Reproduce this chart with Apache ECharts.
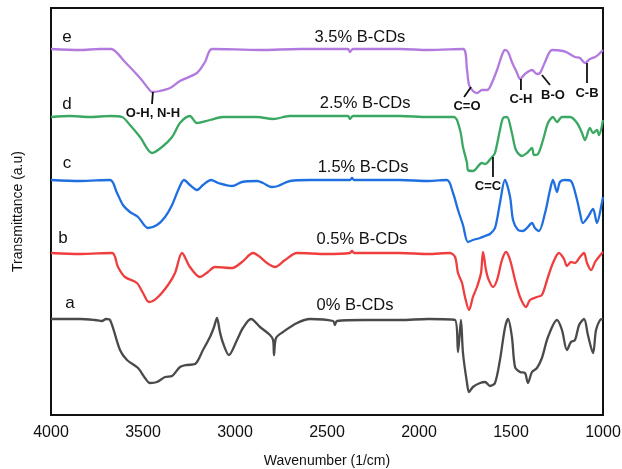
<!DOCTYPE html>
<html>
<head>
<meta charset="utf-8">
<script src="https://cdn.jsdelivr.net/npm/echarts@6/dist/echarts.min.js"></script>
<style>
	html, body { margin: 0; padding: 0; background: #fff; }
	#ftir { width: 622px; height: 469px; }
</style>
</head>
<body>
<div id="ftir"></div>
<script>
// wavenumber ticks (cm-1), axis runs 4000 -> 1000
var xTicks = [4000, 3500, 3000, 2500, 2000, 1500, 1000];

// spectra: [wavenumber, transmittance (a.u., stacked offset)]
var spectrumA = [
	[4000,96],[3842,96],[3761,95],[3723,94],[3701,96],[3679,95],[3625,65],[3587,55],[3527,47],[3489,37],
	[3462,32],[3424,33],[3380,38],[3342,39],[3299,48],[3261,50],[3217,51],[3174,65],[3136,78],[3114,88],
	[3098,97],[3082,83],[3065,72],[3033,60],[2989,75],[2957,87],[2913,96],[2864,88],[2810,80],[2793,75],
	[2788,60],[2777,77],[2739,83],[2663,92],[2592,96],[2467,94],[2457,90],[2446,94],[2300,95],[2103,95],
	[1950,96],[1804,95],[1788,63],[1772,95],[1761,62],[1739,32],[1728,23],[1707,28],[1668,32],[1641,33],
	[1614,29],[1587,32],[1560,55],[1533,87],[1516,96],[1495,78],[1478,48],[1451,43],[1424,42],[1408,32],
	[1386,43],[1359,47],[1332,57],[1299,78],[1250,95],[1223,85],[1196,65],[1174,73],[1152,75],[1130,90],
	[1103,96],[1082,80],[1054,62],[1038,85],[1016,95],[1000,96]
];
var spectrumB = [
	[4000,162],[3842,161],[3668,162],[3636,148],[3598,138],[3533,132],[3500,122],[3467,113],[3424,117],[3364,130],
	[3326,142],[3288,162],[3245,148],[3190,138],[3147,143],[3109,148],[3016,147],[2962,153],[2902,162],[2864,158],
	[2826,152],[2783,148],[2728,155],[2663,162],[2500,161],[2375,162],[2364,164],[2353,162],[2103,162],[1950,161],
	[1832,162],[1804,158],[1788,142],[1766,132],[1750,118],[1728,105],[1707,118],[1685,128],[1663,142],[1652,163],
	[1636,145],[1625,137],[1598,128],[1576,135],[1549,155],[1527,163],[1505,155],[1478,135],[1451,118],[1418,108],
	[1397,115],[1359,118],[1332,120],[1304,135],[1272,152],[1239,162],[1212,156],[1196,149],[1174,153],[1152,152],
	[1125,158],[1103,162],[1087,152],[1065,145],[1043,153],[1027,157],[1005,162],[1000,163]
];
var spectrumC = [
	[4000,235],[3842,234],[3679,235],[3641,222],[3609,210],[3571,203],[3527,198],[3473,187],[3424,190],[3380,198],
	[3342,210],[3304,227],[3277,235],[3245,230],[3207,225],[3174,230],[3130,235],[3092,232],[3016,229],[2962,233],
	[2880,234],[2848,232],[2799,228],[2766,229],[2701,234],[2592,235],[2375,235],[2364,237],[2353,235],[2103,235],
	[1950,234],[1848,235],[1815,222],[1788,205],[1761,190],[1734,173],[1707,175],[1668,177],[1641,179],[1614,181],
	[1587,187],[1560,212],[1533,235],[1505,218],[1489,195],[1462,185],[1435,184],[1413,187],[1386,192],[1370,187],
	[1348,184],[1315,202],[1288,225],[1272,235],[1250,223],[1234,233],[1207,235],[1174,234],[1141,215],[1125,202],
	[1109,192],[1082,198],[1054,206],[1033,192],[1005,213],[1000,218]
];
var spectrumD = [
	[4000,298],[3897,299],[3788,298],[3679,299],[3614,298],[3571,290],[3516,278],[3451,262],[3397,268],[3342,278],
	[3299,292],[3245,299],[3207,292],[3136,295],[3065,298],[2880,298],[2793,296],[2701,299],[2386,299],[2375,296],
	[2359,299],[2103,299],[1950,298],[1810,298],[1777,285],[1761,268],[1739,252],[1734,245],[1707,244],[1658,252],
	[1641,251],[1603,258],[1587,262],[1560,285],[1543,297],[1522,298],[1495,282],[1473,265],[1440,259],[1413,262],
	[1386,267],[1375,260],[1353,261],[1326,275],[1299,292],[1272,298],[1250,293],[1223,298],[1179,298],[1141,292],
	[1114,282],[1098,275],[1071,287],[1054,282],[1033,285],[1022,280],[1000,295]
];
var spectrumE = [
	[4000,366],[3842,365],[3734,366],[3674,366],[3598,353],[3516,337],[3473,327],[3451,323],[3408,324],[3353,327],
	[3299,334],[3207,342],[3163,353],[3125,366],[2864,365],[2647,366],[2386,366],[2375,363],[2359,366],[2103,366],
	[1950,365],[1761,366],[1739,345],[1728,330],[1707,324],[1685,322],[1658,325],[1630,325],[1614,328],[1576,345],
	[1549,360],[1533,365],[1516,363],[1495,353],[1467,342],[1451,336],[1424,341],[1386,345],[1359,341],[1342,342],
	[1315,353],[1277,365],[1217,364],[1190,362],[1152,358],[1125,357],[1098,352],[1071,356],[1043,358],[1027,360],
	[1000,365]
];

var seriesNames = ['a', 'b', 'c', 'd', 'e'];
var seriesLegend = ['0% B-CDs', '0.5% B-CDs', '1.5% B-CDs', '2.5% B-CDs', '3.5% B-CDs'];
var seriesColors = ['#4a4a4a', '#ef3e3e', '#1f6fe0', '#3aa862', '#b27ade'];
var spectra = [spectrumA, spectrumB, spectrumC, spectrumD, spectrumE];

// where the letter and percentage sit, in data units
var letterPos = [[3897,112],[3935,177],[3913,252],[3913,311],[3913,378]];
var legendPos = [[2348,110],[2310,176],[2304,248],[2293,312],[2321,378]];

// band assignments: text, label position, leader line [w1,t1,w2,t2]
var bandText = ['O-H, N-H', 'C=O', 'C-H', 'B-O', 'C-B', 'C=C'];
var bandLabel = [[3446,302],[1739,309],[1446,316],[1272,320],[1087,322],[1625,229]];
var bandLine = [
	[3446,323,3451,311],
	[1717,328,1755,318],
	[1446,336,1446,325],
	[1332,340,1288,330],
	[1087,352,1087,332],
	[1598,258,1598,238]
];

var chart = echarts.init(document.getElementById('ftir'));

var series = [];
for (var i = 0; i < spectra.length; i++) {
	series.push({
		name: seriesNames[i],
		type: 'line',
		data: spectra[i],
		showSymbol: false,
		smooth: 0.3,
		lineStyle: { color: seriesColors[i], width: 2.3 },
		itemStyle: { color: seriesColors[i] },
		z: 2 + i,
		animation: false
	});
}

chart.setOption({
	backgroundColor: '#fff',
	textStyle: { fontFamily: 'Liberation Sans, Arial, sans-serif' },
	grid: {
		left: 51, right: 19, top: 8, bottom: 54,
		outerBoundsMode: 'none',
		show: true,
		borderColor: '#111',
		borderWidth: 2
	},
	xAxis: {
		type: 'value',
		inverse: true,
		min: xTicks[xTicks.length - 1],
		max: xTicks[0],
		interval: 500,
		name: 'Wavenumber (1/cm)',
		nameLocation: 'middle',
		nameGap: 39,
		nameTextStyle: { fontSize: 14, color: '#111' },
		axisLine: { show: true, lineStyle: { color: '#111', width: 2 } },
		axisTick: { show: false },
		axisLabel: {
			fontSize: 16, color: '#111', margin: 10,
			formatter: function (v) { return String(v); }
		},
		splitLine: { show: false }
	},
	yAxis: {
		type: 'value',
		min: 0,
		max: 407,
		name: 'Transmittance (a.u)',
		nameLocation: 'middle',
		nameGap: 26,
		nameTextStyle: { fontSize: 14, color: '#111' },
		axisLine: { show: true, lineStyle: { color: '#111', width: 2 } },
		axisTick: { show: false },
		axisLabel: { show: false },
		splitLine: { show: false }
	},
	series: series
});

// texts and leader lines placed through the axes
var graphics = [];
for (var i = 0; i < seriesNames.length; i++) {
	var p1 = chart.convertToPixel({ gridIndex: 0 }, letterPos[i]);
	var p2 = chart.convertToPixel({ gridIndex: 0 }, legendPos[i]);
	graphics.push({
		type: 'text', x: p1[0], y: p1[1], z: 20,
		style: { text: seriesNames[i], fill: '#111', font: '17px Liberation Sans, Arial, sans-serif', align: 'center', verticalAlign: 'middle' }
	});
	graphics.push({
		type: 'text', x: p2[0], y: p2[1], z: 20,
		style: { text: seriesLegend[i], fill: '#111', font: '16.5px Liberation Sans, Arial, sans-serif', align: 'center', verticalAlign: 'middle' }
	});
}
for (var j = 0; j < bandText.length; j++) {
	var lp = chart.convertToPixel({ gridIndex: 0 }, bandLabel[j]);
	var a = chart.convertToPixel({ gridIndex: 0 }, [bandLine[j][0], bandLine[j][1]]);
	var b = chart.convertToPixel({ gridIndex: 0 }, [bandLine[j][2], bandLine[j][3]]);
	graphics.push({
		type: 'line', z: 20,
		shape: { x1: a[0], y1: a[1], x2: b[0], y2: b[1] },
		style: { stroke: '#111', lineWidth: 1.8 }
	});
	graphics.push({
		type: 'text', x: lp[0], y: lp[1], z: 20,
		style: { text: bandText[j], fill: '#111', font: 'bold 13px Liberation Sans, Arial, sans-serif', align: 'center', verticalAlign: 'middle' }
	});
}
chart.setOption({ graphic: graphics });
</script>
</body>
</html>
